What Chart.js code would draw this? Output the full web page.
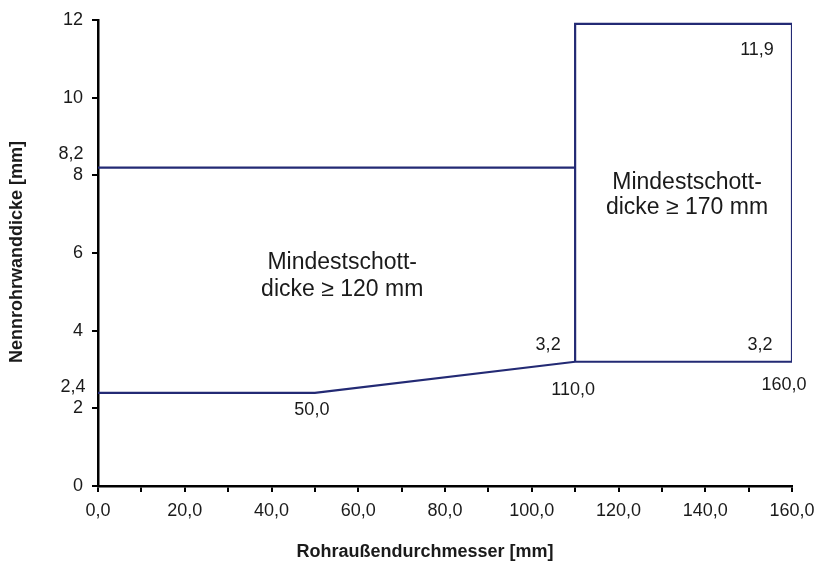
<!DOCTYPE html>
<html>
<head>
<meta charset="utf-8">
<script src="https://cdn.jsdelivr.net/npm/chart.js@4.4.1/dist/chart.umd.min.js"></script>
<style>
  html, body { margin: 0; padding: 0; background: #fff; }
</style>
</head>
<body>
<canvas id="chart" width="816" height="565"></canvas>
<script>
// Daten aus dem Diagramm
var upperX = [0, 110];
var upperY = [8.2, 8.2];
var lowerX = [0, 50, 110, 160];
var lowerY = [2.4, 2.4, 3.2, 3.2];
var boxX = [110, 110, 160, 160];
var boxY = [3.2, 11.9, 11.9, 3.2];

var xTitle = "Rohraußendurchmesser [mm]";
var yTitle = "Nennrohrwanddicke [mm]";
var zoneLeft = ["Mindestschott-", "dicke ≥ 120 mm"];
var zoneRight = ["Mindestschott-", "dicke ≥ 170 mm"];

var lineColor = "#232a74";
var textColor = "#1a1a1a";
var fontFam = "'Liberation Sans', Arial, sans-serif";

function toPoints(xs, ys) {
    var pts = [];
    for (var i = 0; i < xs.length; i++) {
        pts.push({ x: xs[i], y: ys[i] });
    }
    return pts;
}

function fmt(v, digits) {
    return v.toFixed(digits).replace(".", ",");
}

// Beschriftungen der Werte und Flächen
var labelPlugin = {
    id: "labelPlugin",
    afterDraw: function(chart) {
        var ctx = chart.ctx;
        var xs = chart.scales.x;
        var ys = chart.scales.y;
        var area = chart.chartArea;
        ctx.save();
        ctx.fillStyle = textColor;
        ctx.textAlign = "center";
        ctx.textBaseline = "middle";

        // Wertebeschriftung
        ctx.font = "18px " + fontFam;
        var callouts = [
            { x: upperX[0], y: upperY[0], t: fmt(upperY[0], 1), dx: -27, dy: -14, abs: true },
            { x: lowerX[0], y: lowerY[0], t: fmt(lowerY[0], 1), dx: -25, dy: -6, abs: true },
            { x: lowerX[1], y: lowerY[1], t: fmt(lowerX[1], 1), dx: -3, dy: 17 },
            { x: lowerX[2], y: lowerY[2], t: fmt(lowerY[2], 1), dx: -27, dy: -17 },
            { x: lowerX[2], y: lowerY[2], t: fmt(lowerX[2], 1), dx: -2, dy: 28 },
            { x: lowerX[3], y: lowerY[3], t: fmt(lowerY[3], 1), dx: -32, dy: -17 },
            { x: lowerX[3], y: lowerY[3], t: fmt(lowerX[3], 1), dx: -8, dy: 23 },
            { x: boxX[2], y: boxY[2], t: fmt(boxY[2], 1), dx: -35, dy: 26 }
        ];
        callouts.forEach(function(c) {
            var px = c.abs ? area.left : xs.getPixelForValue(c.x);
            var py = ys.getPixelForValue(c.y);
            ctx.fillText(c.t, px + c.dx, py + c.dy);
        });

        // Flächenbeschriftung
        ctx.font = "23px " + fontFam;
        var lx = xs.getPixelForValue(56.3);
        var ly = ys.getPixelForValue(5.42);
        ctx.fillText(zoneLeft[0], lx, ly - 13);
        ctx.fillText(zoneLeft[1], lx, ly + 14);
        var rx = xs.getPixelForValue(135.8);
        var ry = ys.getPixelForValue(7.5);
        ctx.fillText(zoneRight[0], rx, ry - 12);
        ctx.fillText(zoneRight[1], rx, ry + 13);

        // Achsentitel
        ctx.font = "bold 18px " + fontFam;
        ctx.fillText(xTitle, 425, 552);
        ctx.translate(17, 252);
        ctx.rotate(-Math.PI / 2);
        ctx.fillText(yTitle, 0, 0);
        ctx.restore();
    }
};

var ds = {
    borderColor: lineColor,
    borderWidth: 2.2,
    pointRadius: 0,
    fill: false,
    tension: 0,
    showLine: true
};

new Chart(document.getElementById("chart"), {
    type: "scatter",
    data: {
        datasets: [
            Object.assign({ label: "oben", data: toPoints(upperX, upperY) }, ds),
            Object.assign({ label: "unten", data: toPoints(lowerX, lowerY) }, ds),
            Object.assign({ label: "Kasten", data: toPoints(boxX, boxY) }, ds)
        ]
    },
    options: {
        responsive: false,
        animation: false,
        layout: { padding: { top: 20, right: 24, left: 0, bottom: 0 } },
        plugins: {
            legend: { display: false },
            tooltip: { enabled: false }
        },
        scales: {
            x: {
                type: "linear",
                min: 0,
                max: 160,
                afterFit: function(scale) {
                    scale.height = 79;
                    scale.paddingLeft = 0;
                    scale.paddingRight = 0;
                },
                border: { color: "#000", width: 2.5 },
                grid: { display: true, drawOnChartArea: false, drawTicks: true, tickLength: 6, color: "#000", lineWidth: 2 },
                ticks: {
                    stepSize: 10,
                    autoSkip: false,
                    maxRotation: 0,
                    padding: 8,
                    color: textColor,
                    font: { family: fontFam, size: 18 },
                    callback: function(v) { return v % 20 === 0 ? fmt(v, 1) : ""; }
                }
            },
            y: {
                type: "linear",
                min: 0,
                max: 12,
                afterFit: function(scale) {
                    scale.width = 98;
                    scale.paddingTop = 0;
                    scale.paddingBottom = 0;
                },
                border: { color: "#000", width: 2.5 },
                grid: { display: true, drawOnChartArea: false, drawTicks: true, tickLength: 6, color: "#000", lineWidth: 2 },
                ticks: {
                    stepSize: 2,
                    padding: 9,
                    color: textColor,
                    font: { family: fontFam, size: 18 }
                }
            }
        }
    },
    plugins: [labelPlugin]
});
</script>
</body>
</html>
